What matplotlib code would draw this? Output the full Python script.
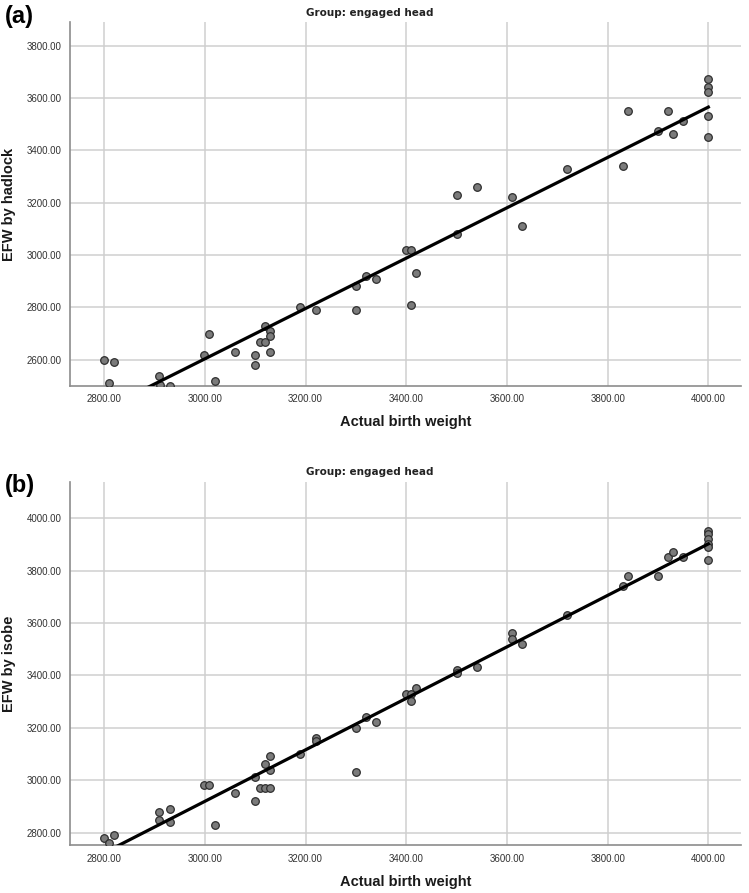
import matplotlib.pyplot as plt
import numpy as np

plt.rcParams['font.family'] = ['Liberation Sans', 'DejaVu Sans']

# panel (a): EFW by hadlock vs actual birth weight
actual_a = [2800, 2819, 2809, 2909, 2910, 2930, 2999, 3009, 3019, 3059,
            3099, 3099, 3109, 3120, 3120, 3130, 3130, 3130, 3189, 3220,
            3300, 3300, 3320, 3339, 3400, 3410, 3420, 3410, 3500, 3500,
            3540, 3610, 3630, 3720, 3830, 3840, 3900, 3920, 3930, 3950,
            4000, 4000, 4000, 4000, 4000]
hadlock = [2600, 2590, 2510, 2540, 2505, 2500, 2620, 2700, 2521, 2629,
           2619, 2580, 2670, 2670, 2730, 2711, 2690, 2629, 2800, 2790,
           2881, 2790, 2920, 2910, 3021, 3021, 2930, 2809, 3081, 3231,
           3260, 3221, 3110, 3330, 3341, 3551, 3472, 3551, 3462, 3512,
           3672, 3642, 3621, 3532, 3452]
fit_a = (-279.0, 0.961)  # intercept, slope

# panel (b): EFW by isobe vs actual birth weight
actual_b = [2800, 2809, 2819, 2909, 2909, 2930, 2930, 2999, 3009, 3019,
            3059, 3099, 3099, 3109, 3120, 3130, 3120, 3130, 3130, 3189,
            3220, 3220, 3300, 3300, 3320, 3339, 3400, 3410, 3420, 3410,
            3500, 3500, 3540, 3610, 3610, 3630, 3720, 3830, 3840, 3900,
            3920, 3930, 3950, 4000, 4000, 4000, 4000, 4000, 4000]
isobe = [2781, 2761, 2791, 2880, 2850, 2890, 2840, 2981, 2981, 2831,
         2950, 3011, 2921, 2971, 2971, 2971, 3061, 3092, 3040, 3100,
         3161, 3151, 3201, 3030, 3242, 3221, 3330, 3330, 3351, 3301,
         3421, 3411, 3431, 3561, 3539, 3520, 3631, 3742, 3781, 3781,
         3851, 3871, 3851, 3951, 3941, 3921, 3901, 3891, 3841]
fit_b = (-26.0, 0.982)

xticks = [2800, 3000, 3200, 3400, 3600, 3800, 4000]
yticks_a = [2600, 2800, 3000, 3200, 3400, 3600, 3800]
yticks_b = [2800, 3000, 3200, 3400, 3600, 3800, 4000]

fig = plt.figure(figsize=(7.49, 8.93), dpi=100)
ax1 = fig.add_axes([0.0935, 0.5677, 0.8959, 0.4077])
ax2 = fig.add_axes([0.0935, 0.0534, 0.8959, 0.4065])


def panel(ax, x, y, fit, yticks, ylim, ylabel, xlab_y):
    ax.grid(True, color='#cfcfcf', linewidth=1.1, zorder=0)
    ax.scatter(x, y, s=30, facecolor='#7b7b7b', edgecolor='#2e2e2e',
               linewidth=0.9, zorder=3)
    xs = np.array([min(x), max(x)])
    ax.plot(xs, fit[0] + fit[1] * xs, color='black', linewidth=2.3, zorder=4)
    ax.set_xlim(2732, 4065)
    ax.set_ylim(*ylim)
    ax.set_xticks(xticks)
    ax.set_yticks(yticks)
    ax.set_xticklabels([f"{v:.2f}" for v in xticks])
    ax.set_yticklabels([f"{v:.2f}" for v in yticks])
    ax.tick_params(length=0, labelsize=7, colors='#333333', pad=6)
    for s in ['top', 'right']:
        ax.spines[s].set_visible(False)
    for s in ['left', 'bottom']:
        ax.spines[s].set_color('#8c8c8c')
        ax.spines[s].set_linewidth(1.2)
    ax.set_xlabel("Actual birth weight", fontsize=10.5, fontweight='bold',
                  color='#1a1a1a')
    ax.set_ylabel(ylabel, fontsize=10.5, fontweight='bold', color='#1a1a1a')
    ax.xaxis.set_label_coords(0.5, xlab_y)
    ax.yaxis.set_label_coords(-0.0805, 0.5)


panel(ax1, actual_a, hadlock, fit_a, yticks_a, (2500, 3890), "EFW by hadlock",
      -0.080)
panel(ax2, actual_b, isobe, fit_b, yticks_b, (2752, 4137), "EFW by isobe",
      -0.083)

fig.text(0.493, 1 - 13 / 893, "Group: engaged head", ha='center', va='center',
         fontsize=7.5, fontweight='bold', color='#222222', family='DejaVu Sans')
fig.text(0.493, 1 - 472 / 893, "Group: engaged head", ha='center', va='center',
         fontsize=7.5, fontweight='bold', color='#222222', family='DejaVu Sans')
fig.text(0.006, 1 - 16 / 893, "(a)", ha='left', va='center', fontsize=17,
         fontweight='bold')
fig.text(0.006, 1 - 486 / 893, "(b)", ha='left', va='center', fontsize=17,
         fontweight='bold')

fig.savefig("out.png", dpi=100)
